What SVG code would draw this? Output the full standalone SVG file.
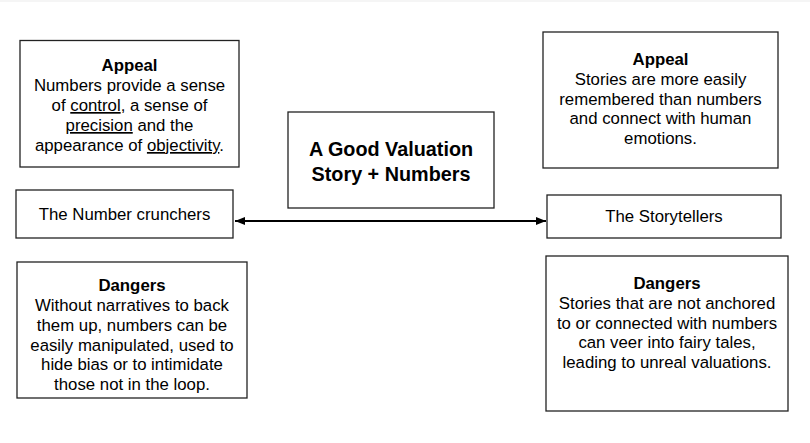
<svg xmlns="http://www.w3.org/2000/svg" width="810" height="443" viewBox="0 0 810 443">
<defs>
<style>
.box{fill:#fff;stroke:#222;stroke-width:1.3}
text{font-family:"Liberation Sans",Arial,sans-serif;font-size:16.8px;fill:#000;text-anchor:middle}
.b{font-weight:bold}
.t{font-weight:bold;font-size:19.8px}
.u{text-decoration:underline}
.conn{stroke:#000;stroke-width:2;fill:none}
</style>
<marker id="ah" viewBox="0 0 10 8" refX="10" refY="4" markerWidth="10" markerHeight="8" markerUnits="userSpaceOnUse" orient="auto-start-reverse">
<path d="M0,0 L10,4 L0,8 Z" fill="#000"/>
</marker>
</defs>
<rect width="810" height="443" fill="#fff"/>
<line x1="0" y1="1" x2="810" y2="1" stroke="#f2f2f2" stroke-width="1.5"/>
<g id="connectors">
<line class="conn" x1="235" y1="221" x2="546" y2="221" marker-start="url(#ah)" marker-end="url(#ah)"/>
</g>
<g id="appeal-left">
<rect class="box" x="20" y="40.5" width="219" height="126.5"/>
<text x="129.5" y="71" class="b">Appeal</text>
<text x="129.5" y="91">Numbers provide a sense</text>
<text x="129.5" y="111">of <tspan class="u">control</tspan>, a sense of</text>
<text x="129.5" y="131"><tspan class="u">precision</tspan> and the</text>
<text x="129.5" y="151">appearance of <tspan class="u">objectivity</tspan>.</text>
</g>
<g id="center">
<rect class="box" x="288" y="112" width="206" height="96"/>
<text x="391" y="156" class="t">A Good Valuation</text>
<text x="391" y="181" class="t">Story + Numbers</text>
</g>
<g id="appeal-right">
<rect class="box" x="543" y="32" width="235" height="136"/>
<text x="660.5" y="65" class="b">Appeal</text>
<text x="660.5" y="85">Stories are more easily</text>
<text x="660.5" y="105">remembered than numbers</text>
<text x="660.5" y="124">and connect with human</text>
<text x="660.5" y="144">emotions.</text>
</g>
<g id="number-crunchers">
<rect class="box" x="16" y="190" width="217" height="48"/>
<text x="124.5" y="220">The Number crunchers</text>
</g>
<g id="storytellers">
<rect class="box" x="547" y="195" width="234" height="43"/>
<text x="664" y="222">The Storytellers</text>
</g>
<g id="dangers-left">
<rect class="box" x="17" y="262" width="230" height="136"/>
<text x="132" y="291" class="b">Dangers</text>
<text x="132" y="311">Without narratives to back</text>
<text x="132" y="331">them up, numbers can be</text>
<text x="132" y="351">easily manipulated, used to</text>
<text x="132" y="370">hide bias or to intimidate</text>
<text x="132" y="390">those not in the loop.</text>
</g>
<g id="dangers-right">
<rect class="box" x="546" y="256" width="242" height="155"/>
<text x="667" y="289" class="b">Dangers</text>
<text x="667" y="309">Stories that are not anchored</text>
<text x="667" y="329">to or connected with numbers</text>
<text x="667" y="348">can veer into fairy tales,</text>
<text x="667" y="368">leading to unreal valuations.</text>
</g>
</svg>
